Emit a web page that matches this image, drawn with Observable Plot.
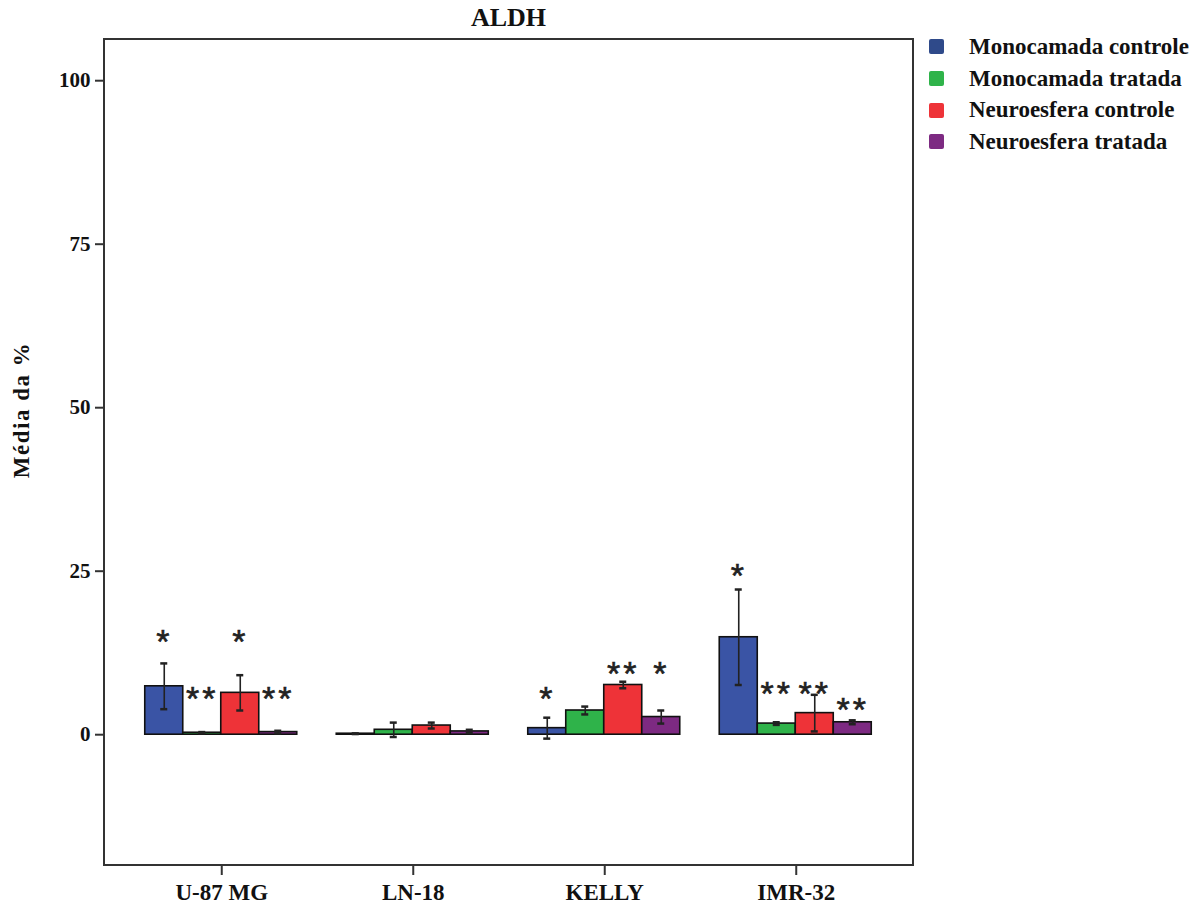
<!DOCTYPE html>
<html><head><meta charset="utf-8">
<script src="https://cdn.jsdelivr.net/npm/d3@7"></script>
<script src="https://cdn.jsdelivr.net/npm/@observablehq/plot@0.6"></script>
<style>
body{margin:0;background:#fff;}
#wrap{position:relative;width:1203px;height:906px;font-family:"Liberation Serif","Times New Roman",serif;font-weight:bold;color:#111;}
#chart{position:absolute;left:0;top:0;}
#title{position:absolute;left:104px;width:809px;top:3px;text-align:center;font-size:26px;line-height:30px;}
#ylabel{position:absolute;left:22px;top:410px;font-size:23px;letter-spacing:1.5px;white-space:nowrap;transform:translate(-50%,-50%) rotate(-90deg);}
#legend{position:absolute;left:929px;top:31px;}
.row{display:flex;align-items:center;height:31.7px;font-size:23px;}
.sw{width:15px;height:15px;border-radius:2px;margin-right:25px;}
</style></head>
<body><div id="wrap"><div id="chart"></div><div id="title">ALDH</div><div id="ylabel">Média da %</div><div id="legend"></div></div>
<script>
const cellLines = ["U-87 MG", "LN-18", "KELLY", "IMR-32"];
const groups = ["Monocamada controle", "Monocamada tratada", "Neuroesfera controle", "Neuroesfera tratada"];
const colors = ["#3a54a5", "#2fb34a", "#ee3338", "#7d2a82"];
const legendColors = ["#2f4a8a", "#2fb34a", "#ee3338", "#7d2a82"];
const yTicks = [0, 25, 50, 75, 100];

// means per series (by cell line)
const monoControle = [7.4, 0.15, 1.0, 14.9];
const monoTratada = [0.3, 0.75, 3.7, 1.7];
const neuroControle = [6.4, 1.4, 7.6, 3.3];
const neuroTratada = [0.4, 0.5, 2.7, 1.9];
// error half-widths
const monoControleErr = [3.5, 0.05, 1.6, 7.3];
const monoTratadaErr = [0.1, 1.1, 0.6, 0.2];
const neuroControleErr = [2.7, 0.45, 0.5, 2.8];
const neuroTratadaErr = [0.2, 0.25, 1.0, 0.3];
// significance marks and their heights
const monoControleSig = ["*", "", "*", "*"];
const monoTratadaSig = ["**", "", "", "**"];
const neuroControleSig = ["*", "", "**", "**"];
const neuroTratadaSig = ["**", "", "*", "**"];
const monoControleSigY = [15.1, null, 6.4, 25.2];
const monoTratadaSigY = [6.3, null, null, 7.2];
const neuroControleSigY = [15.1, null, 10.2, 7.2];
const neuroTratadaSigY = [6.3, null, 10.2, 4.7];

const means = [monoControle, monoTratada, neuroControle, neuroTratada];
const errs = [monoControleErr, monoTratadaErr, neuroControleErr, neuroTratadaErr];
const sigs = [monoControleSig, monoTratadaSig, neuroControleSig, neuroTratadaSig];
const sigYs = [monoControleSigY, monoTratadaSigY, neuroControleSigY, neuroTratadaSigY];

const rows = [];
cellLines.forEach((c, i) => groups.forEach((g, j) => rows.push({
  cell: c, group: g, mean: means[j][i], err: errs[j][i], sig: sigs[j][i], sigY: sigYs[j][i]
})));

const W = 1203, H = 906, ML = 104, MR = 290, MT = 39, MB = 41;
const pi = 0.1906, po = 0.2076;
const step = (W - ML - MR) / (cellLines.length - pi + 2 * po);

const plot = Plot.plot({
  width: W, height: H,
  marginLeft: ML, marginRight: MR, marginTop: MT, marginBottom: MB,
  style: {fontFamily: "'Liberation Serif', 'Times New Roman', serif", fontWeight: "bold", color: "#111", background: "#fff"},
  fx: {domain: cellLines, paddingInner: pi, paddingOuter: po, round: false, label: null, axis: null},
  x: {domain: groups, padding: 0, axis: null},
  y: {domain: [-20, 106.3], axis: null},
  color: {domain: groups, range: colors},
  marks: [
    Plot.axisY({ticks: yTicks, tickSize: 9, tickPadding: 5, label: null, fontSize: 21, stroke: "#333", strokeWidth: 2, dx: -po * step}),
    Plot.axisFx({tickSize: 10, tickPadding: 8, label: null, fontSize: 23, stroke: "#333", strokeWidth: 2, anchor: "bottom"}),
    Plot.barY(rows, {fx: "cell", x: "group", y: "mean", fill: "group", stroke: "#111", strokeWidth: 1.6}),
    Plot.ruleX(rows, {fx: "cell", x: "group", y1: d => d.mean - d.err, y2: d => d.mean + d.err, stroke: "#222", strokeWidth: 1.6}),
    Plot.tickY(rows, {fx: "cell", x: "group", y: d => d.mean + d.err, insetLeft: 15.5, insetRight: 15.5, stroke: "#222", strokeWidth: 2.5}),
    Plot.tickY(rows, {fx: "cell", x: "group", y: d => d.mean - d.err, insetLeft: 15.5, insetRight: 15.5, stroke: "#222", strokeWidth: 2.5}),
    Plot.text(rows.filter(d => d.sig), {fx: "cell", x: "group", y: "sigY", text: "sig", fontSize: 34, fontFamily: "'Liberation Sans', Arial, sans-serif", fontWeight: "normal", fill: "#222", dy: 6})
  ]
});
document.getElementById("chart").appendChild(plot);

// outer frame around the whole plotting area
d3.select(plot).append("rect")
  .attr("x", ML).attr("y", MT).attr("width", W - ML - MR).attr("height", H - MT - MB)
  .attr("fill", "none").attr("stroke", "#333").attr("stroke-width", 2);

d3.select(plot).selectAll("g[aria-label='text'] text").style("letter-spacing", "3px").style("stroke", "#222").style("stroke-width", "0.6px");

const legend = document.getElementById("legend");
groups.forEach((g, j) => {
  const r = document.createElement("div"); r.className = "row";
  const s = document.createElement("div"); s.className = "sw"; s.style.background = legendColors[j];
  const t = document.createElement("span"); t.textContent = g;
  r.appendChild(s); r.appendChild(t); legend.appendChild(r);
});
</script></body></html>
